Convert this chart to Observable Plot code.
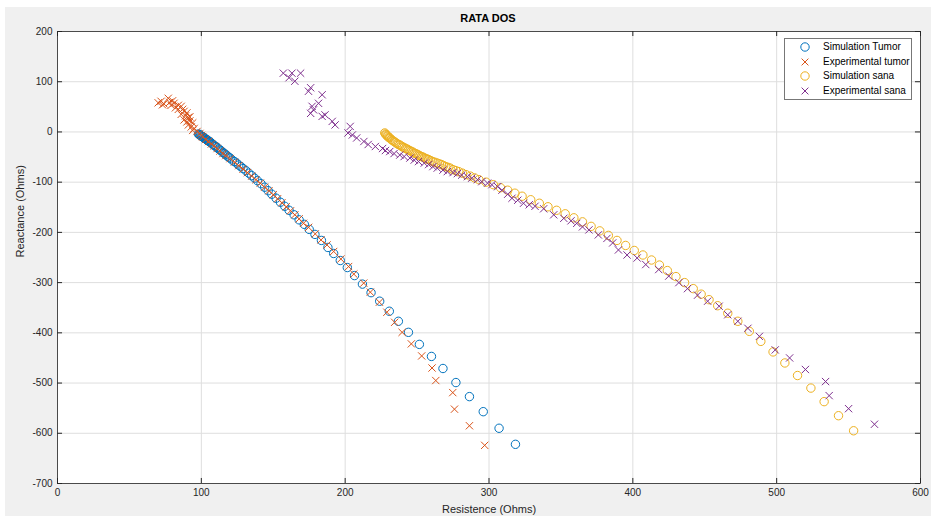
<!DOCTYPE html>
<html><head><meta charset="utf-8">
<script src="https://cdn.jsdelivr.net/npm/d3@7"></script>
<script src="https://cdn.jsdelivr.net/npm/@observablehq/plot@0.6"></script>
<style>
body{margin:0;background:#fff;font-family:"Liberation Sans",Arial,sans-serif;}
#fig{position:relative;width:940px;height:521px;background:#fff;overflow:hidden}
#bg{position:absolute;left:5px;top:7px;width:926px;height:509px;background:#f0f0f0}
#title{position:absolute;left:388px;top:11px;width:200px;text-align:center;font-weight:bold;font-size:11px;line-height:14px;color:#000}
#chart{position:absolute;left:0;top:24px}
#legend{position:absolute;left:784px;top:38px;width:126px;height:60px;background:#fff;border:1px solid #777}
.row{position:absolute;left:0;height:14px;width:126px}
.row svg{position:absolute;left:13px;top:0}
.row span{position:absolute;left:38px;top:0;font-size:10px;line-height:14px;color:#000;white-space:nowrap}
</style>
</head><body>
<div id="fig">
  <div id="bg"></div>
  <div id="title">RATA DOS</div>
  <div id="chart"></div>
  <div id="legend"></div>
</div>
<script>
// Simulation Tumor (blue circles)
const simTumorR = [98,98.5,99,99.5,100,100.5,101,101.5,102,102.5,103,103.5,104,104.5,105,105.5,106,107,108,109,110,111,112,113,114,115,116,117,118,119,120,121.5,123,124.5,126,127.5,129,131,133,135,137,139,141.5,144,146.5,149,152,155,158,161,164.5,168,171.6,175,179,183.5,188,192,196.6,201.5,206.5,212,218,224,230.7,237,244,251.6,260,268,277,286.4,296,307,318.4];
const simTumorX = [-4,-5,-6,-7,-8,-9,-10,-11,-12,-13,-14,-15,-16,-17,-18,-19,-20,-22,-25,-27,-29,-31,-34,-36,-38,-41,-43,-45,-48,-50,-52,-56,-59,-62,-66,-69,-73,-77,-82,-87,-92,-97,-103,-110,-117,-124,-132,-140,-148,-156,-165,-175,-184,-194,-204,-216,-230,-242,-256,-270,-286,-303,-320,-337,-357,-377,-399,-423,-447,-471,-499,-527,-557,-590,-622];

// Experimental tumor (orange crosses)
const expTumorR = [70,72,73,74,77,78,80,79,81,82,84,84,86,87,88,86,89,90,91,92,88,90,92,94,91,93,95,94,97,99,100,101,103,105,107,109,111,113,115,117,120,123,126,129,132,135,138,141,144,147,150,153,156,159,162,165,168,171,174.6,179.2,183.2,187.4,192,197,202.4,206,212.9,217.5,223.8,229,234.4,239.6,246,253.2,260.4,263,274.8,276,286.4,297];
const expTumorX = [58,61,54,56,67,59,62,53,57,48,45,53,51,45,41,35,32,38,29,30,24,20,22,18,14,10,7,3,1,-3,-7,-10,-15,-19,-24,-28,-33,-38,-43,-47,-53,-60,-67,-74,-81,-88,-95,-102,-110,-117,-125,-133,-141,-149,-157,-165,-173,-182,-190,-203,-215,-225,-238,-253,-268,-283,-301,-319,-339,-359,-379,-399,-422,-446,-470,-495,-519,-552,-585,-624];

// Simulation sana (yellow circles)
const simSanaR = [227.5,228,228.5,229,229.5,230,230.5,231,232,233,234,235,236,237,238,239,240,241,242,243,244,245,246,247,248,249,250,251,252,253,254,255,256,257,258,259.5,261,262.5,264,265.5,267,268.5,270,271.5,273,275,277,279,281.5,284,287,290,293,298,303,308,313,318,323,329,335,341,347,353,359,365,371,377,383,389,395,401,407,413,418.5,424,430,436,442,447.5,453,459,466,473,481,489,497.5,505.7,514.5,523.8,533,543,553.5];
const simSanaX = [-2,-4,-5.5,-7,-8.5,-10,-11,-12,-15,-17,-19,-21,-23,-25,-26,-28,-30,-31,-33,-34,-36,-37,-39,-40,-42,-43,-44.5,-46,-47.5,-49,-50,-51.5,-53,-54,-55,-57,-59,-60.5,-62,-63.5,-65,-67,-69,-70.5,-72,-75,-77,-79,-82,-85,-88,-91.5,-95,-100,-105,-111,-116,-122,-128,-135,-142,-149,-156,-163,-171,-179,-188,-197,-206,-216,-226,-236,-245,-255,-265,-276,-288,-300,-312,-323,-334,-346,-361,-377,-397,-417,-438,-460,-485,-510,-537,-565,-595];

// Experimental sana (purple crosses)
const expSanaR = [157,161,163,165,169,174.5,176,184,181.5,177,178,176,184,186,191,193,203.5,202,205,208,213,216,221,226,228,231,234,238,241,245,248,251,255,258,261,264,268,271,275,278,281,285,288,292,295,299,302,306,309,313,316,320,324,328,332,338,345,352,357,361,365,369.5,376,382,386,390,396,403,409,418,425,432,438,445,452,460,466,473,480,488,499,509,520,534,536.5,550,568];
const expSanaX = [117,108,117,101,117,81,88,74,57,51,44,37,31,34,21,14,11,-2,-6,-12,-19,-25,-29,-33,-37,-39,-43,-46,-49,-52,-56,-59,-62,-65,-69,-72,-76,-79,-81,-83,-86,-89,-92,-95,-99,-102,-105,-109,-116,-124,-132,-136,-142,-145,-148,-153,-165,-172,-177,-182,-189,-195,-205,-212,-221,-235,-245,-251,-264,-274,-287,-300,-312,-325,-337,-347,-364,-377,-391,-407,-434,-450,-473,-497,-525,-551,-582];

const xTicks = [0,100,200,300,400,500,600];
const yTicks = [200,100,0,-100,-200,-300,-400,-500,-600,-700];

const seriesNames = ["Simulation Tumor","Experimental tumor","Simulation sana","Experimental sana"];
const seriesColors = ["#0072BD","#D95319","#EDB120","#7E2F8E"];
const seriesSymbols = ["circle","times","circle","times"];

const zip = (a,b) => a.map((v,i)=>({r:v, x:b[i]}));
const sets = [zip(simTumorR,simTumorX), zip(expTumorR,expTumorX), zip(simSanaR,simSanaX), zip(expSanaR,expSanaX)];

const ink = "#262626";
const fmt = d => String(d);
const marks = [
  Plot.frame({fill:"white", stroke:"none"}),
  Plot.gridX(xTicks, {stroke:"#dedede", strokeOpacity:1}),
  Plot.gridY(yTicks, {stroke:"#dedede", strokeOpacity:1}),
  Plot.axisX(xTicks, {tickSize:0, tickPadding:5, label:null, fontSize:10, color:ink, tickFormat:fmt}),
  Plot.axisY(yTicks, {tickSize:0, tickPadding:5, label:null, fontSize:10, color:ink, tickFormat:fmt}),
  Plot.ruleX(xTicks, {x:d=>d, y1:-700, y2:-690, stroke:ink}),
  Plot.ruleX(xTicks, {x:d=>d, y1:200, y2:190, stroke:ink}),
  Plot.ruleY(yTicks, {y:d=>d, x1:0, x2:3.5, stroke:ink}),
  Plot.ruleY(yTicks, {y:d=>d, x1:596.5, x2:600, stroke:ink}),
];
sets.forEach((data,i)=>{
  marks.push(Plot.dot(data, {x:"r", y:"x", symbol:seriesSymbols[i], r: seriesSymbols[i]==="circle"?4.2:3.4, stroke:seriesColors[i], fill:"none", strokeWidth:1}));
});
marks.push(
  Plot.frame({stroke:ink, strokeWidth:0.8}),
  Plot.text(["Resistence (Ohms)"], {frameAnchor:"bottom", dy:29, fontSize:11, fill:ink}),
  Plot.text(["Reactance (Ohms)"], {frameAnchor:"left", dx:-37, rotate:-90, fontSize:11, fill:ink})
);

const chart = Plot.plot({
  width:940, height:497,
  marginLeft:57, marginRight:20, marginTop:7, marginBottom:38,
  x:{domain:[0,600]},
  y:{domain:[-700,200]},
  style:{background:"transparent", fontFamily:"'Liberation Sans', Arial, sans-serif", fontSize:"10px", color:ink},
  marks
});
document.getElementById("chart").appendChild(chart);

// legend
const lg = document.getElementById("legend");
const rowTops = [1,16,30,45];
seriesNames.forEach((name,i)=>{
  const row = document.createElement("div");
  row.className = "row";
  row.style.top = rowTops[i] + "px";
  const ns = "http://www.w3.org/2000/svg";
  const s = document.createElementNS(ns,"svg");
  s.setAttribute("width","14"); s.setAttribute("height","14");
  let g;
  if (seriesSymbols[i]==="circle") {
    g = document.createElementNS(ns,"circle");
    g.setAttribute("cx","7"); g.setAttribute("cy","7"); g.setAttribute("r","4.2");
  } else {
    g = document.createElementNS(ns,"path");
    g.setAttribute("d","M3.6,3.6L10.4,10.4M10.4,3.6L3.6,10.4");
  }
  g.setAttribute("fill","none"); g.setAttribute("stroke",seriesColors[i]); g.setAttribute("stroke-width","1");
  s.appendChild(g);
  const t = document.createElement("span");
  t.textContent = name;
  row.appendChild(s); row.appendChild(t);
  lg.appendChild(row);
});
</script>
</body></html>
